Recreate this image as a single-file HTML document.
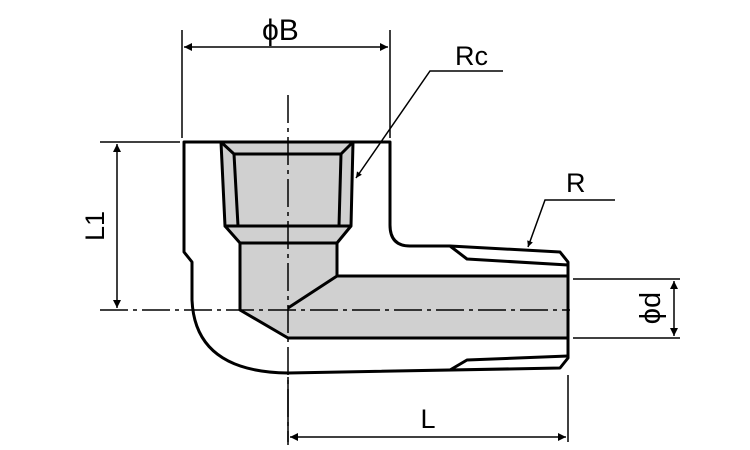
<!DOCTYPE html><html><head><style>body{margin:0;background:#fff}svg{display:block}text{font-family:"Liberation Sans",sans-serif;fill:#000}</style></head><body>
<svg width="750" height="450" viewBox="0 0 750 450" xmlns="http://www.w3.org/2000/svg">
<defs><marker id="a" viewBox="0 0 10 10" refX="10" refY="5" markerWidth="14" markerHeight="8" orient="auto-start-reverse" markerUnits="userSpaceOnUse"><path d="M0,0L10,5L0,10z"/></marker>
<marker id="s" viewBox="0 0 10 10" refX="10" refY="5" markerWidth="10" markerHeight="6" orient="auto" markerUnits="userSpaceOnUse"><path d="M0,0L10,5L0,10z"/></marker></defs>
<path d="M221,142H353L351,226L338,243V276H568V338H288L240,310V243L225,226Z" fill="#d0d0d0"/>
<g fill="none" stroke="#000" stroke-width="3" stroke-linejoin="round">
<path d="M184,142H390V225Q390,246 410,246H450L560,252L568,262V358L560,368L288,373Q195,372 192,300V262L184,252Z"/>
<path d="M221,142L225,226H351L353,142"/>
<path d="M234,154H341L339,226M234,154L238,226"/>
<path d="M221,142L234,154M353,142L341,154"/>
<path d="M225,226L240,243H337L351,226"/>
<path d="M240,243V310L288,338H568"/>
<path d="M337,243V276L288,308M337,276H568"/>
<path d="M450,246L467,259L568,265"/>
<path d="M450,370L467,360L568,356"/>
</g>
<g stroke="#000" stroke-width="1.5" fill="none">
<path d="M288,95V445" stroke-dasharray="28,5,4,5"/>
<path d="M100,310H570" stroke-dasharray="28,5,4,5"/>
<path d="M182,30V138M390,30V138"/>
<path d="M184,47H388" marker-start="url(#a)" marker-end="url(#a)"/>
<path d="M100,142H180"/>
<path d="M117,144V308" marker-start="url(#a)" marker-end="url(#a)"/>
<path d="M568,375V442M288,377V442"/>
<path d="M290,437H566" marker-start="url(#a)" marker-end="url(#a)"/>
<path d="M573,279H680M573,338H680"/>
<path d="M674,281V336" marker-start="url(#a)" marker-end="url(#a)"/>
<path d="M503,71H430L356,178" marker-end="url(#s)"/>
<path d="M615,200H545L528,247" marker-end="url(#s)"/>
</g>
<text x="262" y="40" font-size="30">ϕB</text>
<text x="455" y="65" font-size="27">Rc</text>
<text x="566" y="192" font-size="27">R</text>
<text transform="translate(104,226) rotate(-90)" font-size="27" text-anchor="middle">L1</text>
<text x="428" y="428" font-size="27" text-anchor="middle">L</text>
<text transform="translate(660,308) rotate(-90)" font-size="29" text-anchor="middle">ϕd</text>
</svg></body></html>
